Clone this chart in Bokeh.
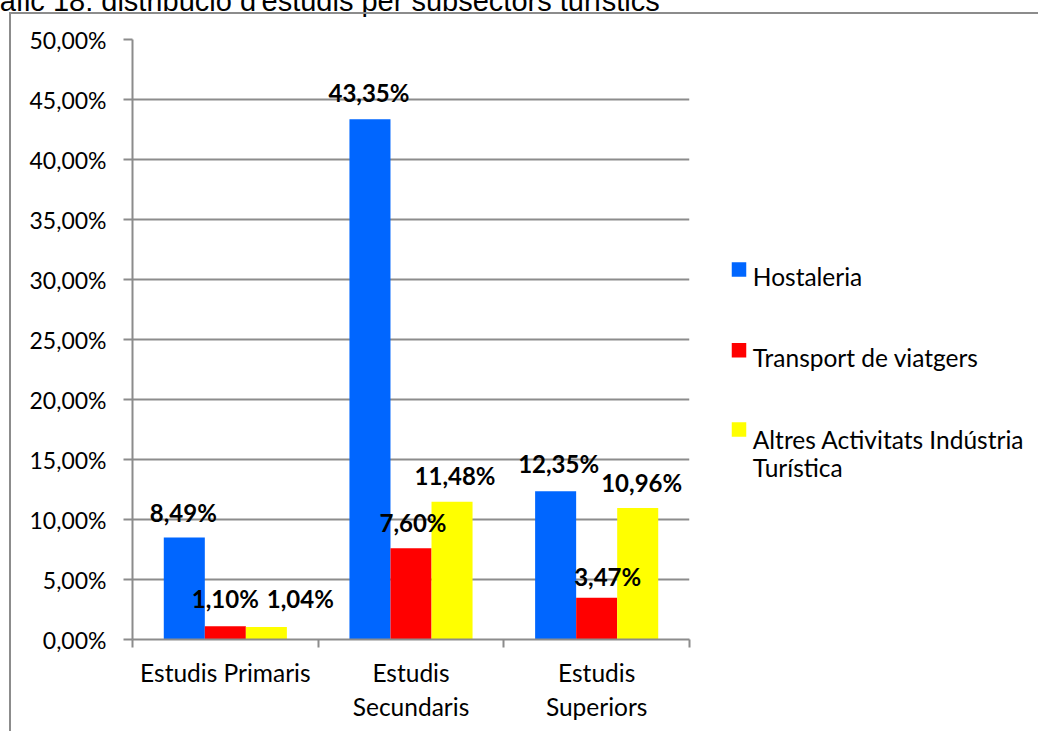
import numpy as np
from bokeh.plotting import figure
from bokeh.layouts import row
from bokeh.models import Range1d, FixedTicker, ColumnDataSource, LabelSet, Title
from bokeh.core.properties import value
from bokeh.embed import file_html
from bokeh.resources import INLINE

# ---------------- data ----------------
title_text = "Gràfic 18: distribució d'estudis per subsectors turístics"
categories = ["Estudis Primaris", "Estudis\nSecundaris", "Estudis\nSuperiors"]
series_names = ["Hostaleria", "Transport de viatgers", "Altres Activitats Indústria\nTurística"]
hostaleria = [8.49, 43.35, 12.35]
transport = [1.10, 7.60, 3.47]
altres = [1.04, 11.48, 10.96]
y_ticks = [0, 5, 10, 15, 20, 25, 30, 35, 40, 45, 50]
y_tick_labels = ["0,00%", "5,00%", "10,00%", "15,00%", "20,00%", "25,00%",
                 "30,00%", "35,00%", "40,00%", "45,00%", "50,00%"]

# ---------------- style / layout ----------------
colors = ["#0066FF", "#FF0000", "#FFFF00"]
gray = "#8c8c8c"
FONT = "Lato"
bar_w = 0.221
ORIGIN_X, ORIGIN_Y = -50, -51          # page position of the drawing (top of title is cut off)
TOP = 90                               # space above the plotting frame (frame top at page y=39)
FRAME_TOP, FRAME_BOTTOM = ORIGIN_Y + TOP, ORIGIN_Y + TOP + 600
MAIN_RIGHT = 708                       # page x where the legend panel starts
LEG_SHIFT = 9                          # measured vertical offset of the legend panel frame
# per-label nudges in pixels (category-major order: P-H, P-T, P-A, S-H, ...)
label_dx = [-1, 0, 34, -1, 2, 3, 3, 11, 4]
label_dy = [16, 18, 19, 17, 16, 17, 18, 12, 16]

series = [hostaleria, transport, altres]

p = figure(frame_width=557, frame_height=600,
           min_border_left=182, min_border_right=19, min_border_top=TOP, min_border_bottom=92,
           x_range=Range1d(0, 3), y_range=Range1d(0, 50),
           output_backend="svg", toolbar_location=None)
p.outline_line_color = None
p.background_fill_color = "white"
p.border_fill_color = "white"

p.title = Title(text=title_text, align="left", offset=-165, standoff=45,
                text_font="Liberation Sans", text_font_size="29px",
                text_font_style="normal", text_color="black")

xc = np.arange(len(categories)) + 0.5
for k, (vals, col) in enumerate(zip(series, colors)):
    p.vbar(x=xc + (k - 1) * bar_w, top=vals, width=bar_w, fill_color=col, line_color=None)

# data labels (category-major order)
lx, ly, lt = [], [], []
for i in range(len(categories)):
    for k, vals in enumerate(series):
        lx.append(xc[i] + (k - 1) * bar_w)
        ly.append(vals[i])
        lt.append(f"{vals[i]:.2f}".replace(".", ",") + "%")
src = ColumnDataSource(dict(x=lx, y=ly, t=lt, dx=label_dx, dy=label_dy))
p.add_layout(LabelSet(x="x", y="y", text="t", source=src, x_offset="dx", y_offset="dy",
                      text_align="center", text_baseline="alphabetic",
                      text_font=value(FONT), text_font_style="bold",
                      text_font_size="24px", text_color="black"))

# axes
p.xgrid.visible = False
p.ygrid.grid_line_color = gray
p.ygrid.grid_line_width = 2
p.ygrid.ticker = FixedTicker(ticks=y_ticks)

ya = p.yaxis[0]
ya.ticker = FixedTicker(ticks=y_ticks)
ya.major_label_overrides = {t: l for t, l in zip(y_ticks, y_tick_labels)}
ya.axis_line_color = gray
ya.axis_line_width = 2
ya.major_tick_line_color = gray
ya.major_tick_line_width = 2
ya.major_tick_out = 9
ya.major_tick_in = 0
ya.minor_tick_line_color = None
ya.major_label_standoff = 17
ya.major_label_text_font = FONT
ya.major_label_text_font_size = "23px"
ya.major_label_text_color = "black"

xa = p.xaxis[0]
xa.ticker = FixedTicker(ticks=list(xc), minor_ticks=list(range(len(categories) + 1)))
xa.major_label_overrides = {float(x): c for x, c in zip(xc, categories)}
xa.axis_line_color = gray
xa.axis_line_width = 2
xa.major_tick_line_color = None
xa.minor_tick_line_color = gray
xa.minor_tick_line_width = 2
xa.minor_tick_out = 8
xa.minor_tick_in = 0
xa.major_label_standoff = 10
xa.major_label_text_font = FONT
xa.major_label_text_font_size = "24.5px"
xa.major_label_text_color = "black"

# ---------------- legend panel (page coordinates) ----------------
LEG_W = 1038 - MAIN_RIGHT
leg = figure(width=LEG_W, height=TOP + 600 + 92,
             x_range=Range1d(MAIN_RIGHT, MAIN_RIGHT + LEG_W),
             y_range=Range1d(FRAME_BOTTOM + LEG_SHIFT, FRAME_TOP + LEG_SHIFT),
             x_axis_type=None, y_axis_type=None, min_border=0,
             output_backend="svg", toolbar_location=None)
leg.outline_line_color = None
leg.grid.visible = False
leg.background_fill_color = "white"
leg.border_fill_color = "white"

sq_x, sq_size = 738.5, 14.5
sq_y = [278, 358.8, 438]
txt_x = 752.3
txt_base = [285, 366, 447.7]
line_step = 28.5

leg.rect(x=[sq_x] * len(colors), y=sq_y, width=sq_size, height=sq_size,
         fill_color=colors, line_color=None)
tx, ty, tt = [], [], []
for name, yb in zip(series_names, txt_base):
    for j, ln in enumerate(name.split("\n")):
        tx.append(txt_x)
        ty.append(yb + j * line_step)
        tt.append(ln)
leg.text(x=tx, y=ty, text=tt, text_font=value(FONT), text_font_size="24.5px",
         text_baseline="alphabetic", text_align="left", text_color="black")

layout = row(p, leg)
layout.margin = (ORIGIN_Y, 0, 0, ORIGIN_X)
layout.stylesheets = [
    ":host { position: relative; }"
    f":host::after {{ content: ''; position: absolute; left: {9 - ORIGIN_X}px; top: {12 - ORIGIN_Y}px;"
    " right: 0; bottom: 0;"
    " border-left: 2px solid #8c8c8c; border-top: 2px solid #8c8c8c; pointer-events: none; }"
]

open("out.html", "w").write(file_html(layout, INLINE))
